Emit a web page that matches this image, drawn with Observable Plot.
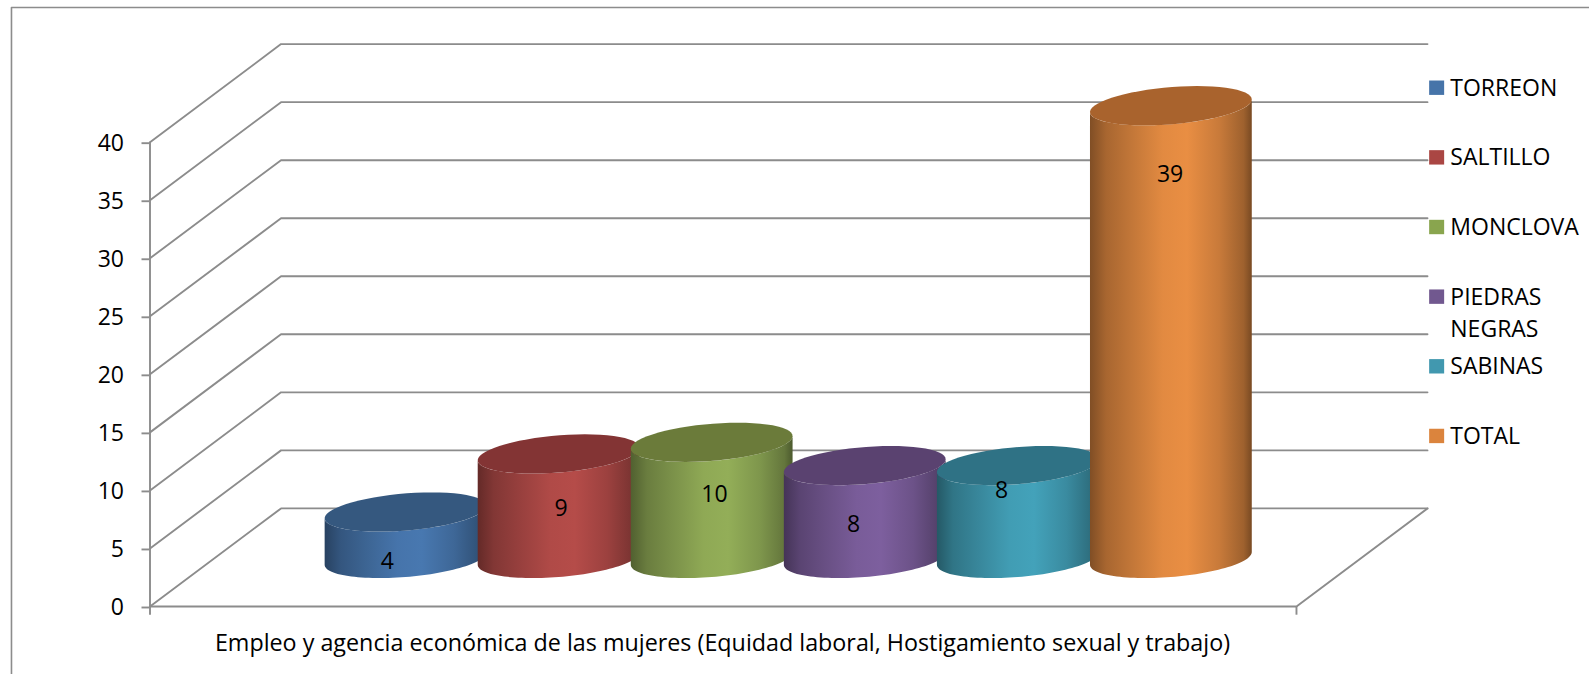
<!DOCTYPE html>
<html lang="es">
<head>
<meta charset="utf-8">
<title>Empleo y agencia económica de las mujeres</title>
<script src="https://cdn.jsdelivr.net/npm/d3@7"></script>
<script src="https://cdn.jsdelivr.net/npm/@observablehq/plot@0.6"></script>
<style>
  html, body { margin: 0; padding: 0; background: #fff; overflow: hidden; }
  svg { display: block; }
</style>
</head>
<body>
<script>
// ---- data ----
const categories = ["TORREON", "SALTILLO", "MONCLOVA", "PIEDRAS\nNEGRAS", "SABINAS", "TOTAL"];
const values = [4, 9, 10, 8, 8, 39];
const yTicks = [0, 5, 10, 15, 20, 25, 30, 35, 40];
const axisTitle = "Empleo y agencia económica de las mujeres (Equidad laboral, Hostigamiento sexual y trabajo)";

// ---- styles ----
const legendColors = ["#4674a9", "#aa4643", "#89a54e", "#71588f", "#4198af", "#db843d"];
const bodyColors = ["#4878b0", "#b54c49", "#93ae58", "#7d5f9e", "#43a2ba", "#e98e43"];
const capColors = ["#35587f", "#833434", "#6b7b3a", "#5a4270", "#2f7285", "#a9632d"];
const gridColor = "#8c8c8c";
const font = "'Open Sans', sans-serif";

// ---- layout, in the units of the x and y scales ----
const xFloor = 7.49;           // width of the floor
const depthX = 0.856;          // how far the back wall is shifted to the right
const depthY = 8.45;           // how far the back wall is shifted upwards
const xMax = xFloor + depthX;
const yMax = 40 + depthY;
const barCentres = categories.map((_, i) => i + 1.25);
const barRadius = 0.5;
const barDepthRadius = 0.2;
const barDepth = 0.49;
const labelX = [1.55, 2.685, 3.688, 4.596, 5.563, 6.664];
const labelY = [3.92, 8.5, 9.73, 7.16, 10.1, 37.3];
const legendRows = categories.map((_, i) => 44.65 - 6 * i);

// a point of the box: x and y on the front plane, z the depth from 0 to 1
const at = (x, y, z) => ({x: x + z * depthX, y: y + z * depthY});

// a stretch of the sheared ellipse that is the section of a cylinder
const tangent = Math.atan2(barDepthRadius * depthX, barRadius);
function arc(cx, y, from, to) {
  return d3.range(61).map((k) => {
    const t = from + (to - from) * k / 60;
    return at(cx + barRadius * Math.cos(t), y, barDepth + barDepthRadius * Math.sin(t));
  });
}

// gradient definitions, used by the cylinder bodies
const stops = [[0, .55], [.1, .72], [.25, .83], [.45, .97], [.6, 1], [.8, .86], [.95, .68], [1, .52]];
function gradients() {
  const defs = d3.create("svg:defs");
  bodyColors.forEach((c, i) => {
    const g = defs.append("linearGradient").attr("id", `bar${i}`)
      .attr("x1", 0).attr("x2", 1).attr("y1", 0).attr("y2", 0);
    const rgb = d3.rgb(c);
    for (const [o, f] of stops) {
      g.append("stop").attr("offset", o)
        .attr("stop-color", d3.rgb(rgb.r * f, rgb.g * f, rgb.b * f).formatHex());
    }
  });
  return defs.node();
}

const gridPaths = yTicks.map((v) => [at(0, v, 0), at(0, v, 1), at(xMax - depthX, v, 1)]);
const floorPath = [at(xFloor, 0, 1), at(xFloor, 0, 0), at(0, 0, 0)];
const lineOpts = {x: "x", y: "y", stroke: gridColor, strokeWidth: 1.9};

const cylinders = values.flatMap((v, i) => {
  const cx = barCentres[i];
  const body = [...arc(cx, 0, tangent, tangent - Math.PI), ...arc(cx, v, tangent - Math.PI, tangent)];
  const cap = arc(cx, v, 0, 2 * Math.PI);
  return [
    Plot.line(body, {x: "x", y: "y", fill: `url(#bar${i})`, stroke: "none", curve: "linear-closed"}),
    Plot.line(cap, {x: "x", y: "y", fill: capColors[i], stroke: "none", curve: "linear-closed"})
  ];
});

const legend = categories.map((name, i) => ({name, row: legendRows[i], color: legendColors[i]}));
const barLabels = values.map((v, i) => ({v, x: labelX[i], y: labelY[i]}));

const chart = Plot.plot({
  width: 1589,
  height: 674,
  marginLeft: 149.5,
  marginRight: 0,
  marginTop: 0,
  marginBottom: 0,
  style: {background: "transparent", fontFamily: font},
  x: {domain: [0, xMax], range: [149.5, 1427], axis: null},
  y: {domain: [0, yMax], range: [606, 43.6], axis: null},
  marks: [
    gradients,
    // frame of the picture
    Plot.line([{x: -0.905, y: -6}, {x: -0.905, y: 51.6}, {x: 9.6, y: 51.6}], {...lineOpts, strokeWidth: 1.6}),
    // walls and floor
    ...gridPaths.map((p) => Plot.line(p, lineOpts)),
    Plot.line(floorPath, lineOpts),
    Plot.ruleX([0], {y1: -0.75, y2: 40, stroke: gridColor, strokeWidth: 1.9}),
    Plot.ruleX([xFloor], {y1: -0.75, y2: 0, stroke: gridColor, strokeWidth: 1.9}),
    Plot.axisY({
      ticks: yTicks, tickSize: 8, tickPadding: 18, label: null, dy: 1,
      stroke: gridColor, strokeWidth: 1.9, fill: "#000", fontSize: 23
    }),
    ...cylinders,
    Plot.text(barLabels, {x: "x", y: "y", dy: 1, text: (d) => String(d.v), fill: "#000", fontSize: 23}),
    Plot.text([axisTitle], {x: [3.74], y: [-3.15], fill: "#000", fontSize: 23.3}),
    // legend
    Plot.rect(legend, {
      x1: () => 8.36, x2: () => 8.458,
      y1: (d) => d.row - 0.62, y2: (d) => d.row + 0.62,
      fill: "color"
    }),
    Plot.text(legend, {
      x: () => 8.495, y: "row", text: "name",
      textAnchor: "start", lineAnchor: "top", dy: -15.5, lineHeight: 1.4,
      fill: "#000", fontSize: 23
    })
  ]
});
document.body.append(chart);
</script>
</body>
</html>
